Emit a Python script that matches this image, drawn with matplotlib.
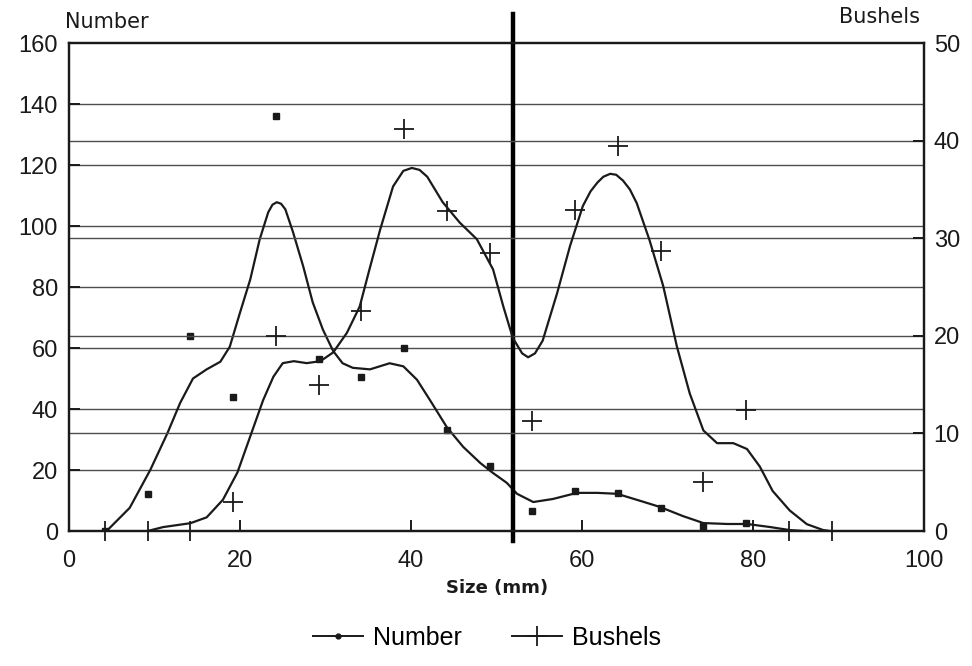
import matplotlib.pyplot as plt
from matplotlib.lines import Line2D

# Size classes (mm) where the counts were taken
sizes = [4.2, 9.2, 14.2, 19.2, 24.2, 29.2, 34.2, 39.2, 44.2, 49.2,
         54.2, 59.2, 64.2, 69.2, 74.2, 79.2, 84.2, 89.2]
number = [0, 12, 64, 44, 136, 56.5, 50.5, 60, 33, 21.4,
          6.5, 13.2, 12.5, 7.6, 1.6, 2.6]
bushels = [0, 0, 0, 3, 20, 15, 22.5, 41.2, 32.8, 28.5,
           11.3, 32.9, 39.4, 28.7, 5.0, 12.4, 0, 0]

# hand-drawn smoothed curves
number_curve_x = [4.4, 7.1, 9.5, 11.5, 13.0, 14.5, 16.1, 17.7, 18.8, 20.0,
                  21.2, 22.3, 23.3, 23.8, 24.3, 24.8, 25.3, 26.2, 27.4, 28.5,
                  29.7, 30.9, 32.0, 33.2, 35.2, 37.5, 39.1, 40.7, 42.2, 44.2,
                  46.1, 48.1, 49.6, 51.2, 52.4, 54.3, 56.6, 59.4, 61.8, 64.1,
                  66.8, 69.1, 71.8, 74.2, 77.0, 79.3, 82.0, 84.3, 86.0]
number_curve_y = [0, 7.6, 20, 32, 42, 50, 53, 55.5, 60.4, 71.6,
                  82.5, 95.6, 104.5, 107, 107.8, 107.3, 105.5, 98, 86.7, 75,
                  66, 59, 55, 53.5, 53, 55, 54, 49.6, 43, 34,
                  27.6, 22.3, 19, 15.8, 12.2, 9.5, 10.5, 12.5, 12.5, 12.2,
                  9.9, 7.9, 4.9, 2.6, 2.3, 2.3, 1.3, 0.3, 0]

bushels_curve_x = [9.2, 11.0, 14.2, 16.1, 18.0, 19.7, 21.2, 22.7, 23.9, 25.0,
                   26.3, 27.8, 29.4, 30.9, 32.5, 34.0, 35.2, 36.4, 37.9, 39.1,
                   40.1, 41.0, 41.9, 43.7, 45.7, 47.7, 49.6, 50.8, 51.9, 53.0,
                   53.7, 54.5, 55.4, 57.1, 58.6, 60.1, 61.0, 61.8, 62.5, 63.3,
                   64.0, 64.8, 65.6, 66.4, 67.9, 69.5, 71.1, 72.6, 74.2, 75.8,
                   77.7, 79.3, 80.8, 82.3, 84.3, 86.3, 88.2, 89.0]
bushels_curve_y = [0, 0.4, 0.8, 1.4, 3.2, 6, 9.7, 13.4, 15.8, 17.2,
                   17.4, 17.2, 17.4, 18.3, 20.3, 23.0, 27.0, 30.9, 35.3, 36.9,
                   37.2, 37.0, 36.3, 33.7, 31.6, 29.9, 26.8, 23.0, 19.8, 18.2,
                   17.8, 18.2, 19.5, 24.4, 29.2, 33.3, 34.8, 35.7, 36.3, 36.6,
                   36.5, 35.9, 35.0, 33.6, 29.8, 25.1, 18.9, 14.1, 10.3, 9.0,
                   9.0, 8.4, 6.6, 4.1, 2.1, 0.7, 0.1, 0]

left_ticks = [0, 20, 40, 60, 80, 100, 120, 140, 160]
right_ticks = [0, 10, 20, 30, 40, 50]
x_ticks = [0, 20, 40, 60, 80, 100]
divider = 51.9

ink = '#1a1a1a'
grid_col = '#4d4d4d'
tick_font = 'Liberation Sans'

fig = plt.figure(figsize=(9.72, 6.66), dpi=100)
ax = fig.add_axes([0.071, 0.2027, 0.8796, 0.7327])
ax2 = ax.twinx()

ax.set_xlim(0, 100)
ax.set_ylim(0, 160)
ax2.set_ylim(0, 50)

# ruled lines for both scales
for v in left_ticks[1:-1]:
    ax.axhline(v, color=grid_col, lw=1.0, zorder=1)
for v in right_ticks[1:-1]:
    ax2.axhline(v, color=grid_col, lw=1.0, zorder=1)

ax.plot(number_curve_x, number_curve_y, color=ink, lw=1.6, zorder=3,
        solid_joinstyle='round')
ax.plot(sizes[:len(number)], number, 's', color=ink, ms=4, zorder=4)
ax2.plot(bushels_curve_x, bushels_curve_y, color=ink, lw=1.6, zorder=3,
         solid_joinstyle='round')
ax2.plot(sizes, bushels, '+', color=ink, ms=15, mew=1.3, zorder=4,
         clip_on=False)

ax.axvline(divider, ymin=-0.02, ymax=1.06, color='black', lw=3.2,
           clip_on=False, zorder=5)

for a in (ax, ax2):
    for s in a.spines.values():
        s.set_color(ink)
        s.set_linewidth(1.6)

ax.set_xticks(x_ticks)
ax.set_yticks(left_ticks)
ax2.set_yticks(right_ticks)
ax.tick_params(axis='x', direction='in', length=8, width=1.4, pad=14,
               labelsize=17, colors=ink)
ax.tick_params(axis='y', direction='in', length=8, width=1.4, pad=8,
               labelsize=17, colors=ink)
ax2.tick_params(axis='y', direction='in', length=8, width=1.4, pad=7,
                labelsize=17, colors=ink)
for lab in ax.get_xticklabels() + ax.get_yticklabels() + ax2.get_yticklabels():
    lab.set_fontfamily(tick_font)

fig.text(65 / 972, 1 - 22 / 666, 'Number', fontsize=15, color=ink,
         ha='left', va='center', family='DejaVu Sans')
fig.text(920 / 972, 1 - 17 / 666, 'Bushels', fontsize=15, color=ink,
         ha='right', va='center', family='DejaVu Sans')
fig.text(497 / 972, 1 - 588 / 666, 'Size (mm)', fontsize=13, color=ink,
         ha='center', va='center', family='DejaVu Sans', weight='bold')

handles = [Line2D([], [], color=ink, lw=1.4, marker='o', ms=3.5),
           Line2D([], [], color=ink, lw=1.4, marker='+', ms=15, mew=1.3)]
fig.legend(handles, ['Number', 'Bushels'], loc='center',
           bbox_to_anchor=(487 / 972, 1 - 638 / 666), ncol=2, frameon=False,
           prop={'family': tick_font, 'size': 18}, handlelength=2.0,
           handletextpad=0.4, columnspacing=2.0)

fig.savefig('out.png', dpi=100)
